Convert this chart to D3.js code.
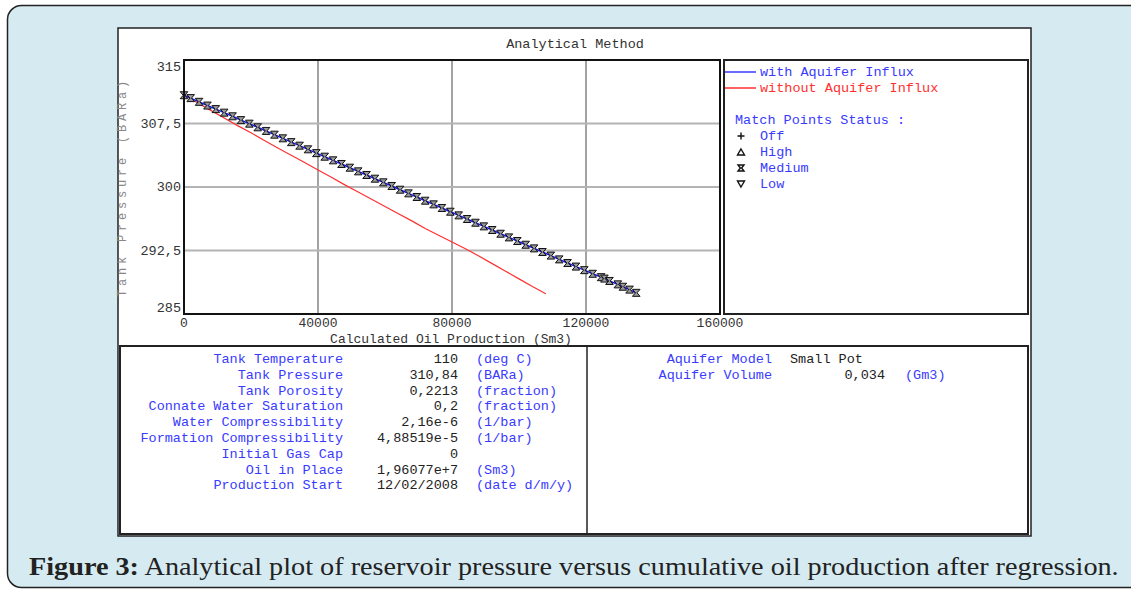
<!DOCTYPE html>
<html>
<head>
<meta charset="utf-8">
<script src="https://cdn.jsdelivr.net/npm/d3@7"></script>
<style>
  body { margin: 0; background: #fff; }
  svg { display: block; }
  .mono { font-family: "Liberation Mono", "DejaVu Sans Mono", monospace; font-size: 13.5px; }
</style>
</head>
<body>
<div class="canvas"></div>
<script>
// match points (with aquifer influx), cumulative oil in Sm3 / pressure in BARa
const matchProd = [0, 2000, 4500, 7000, 9500, 12000, 14500, 17000, 19500, 22000, 24500, 27000, 29500,
    32000, 34500, 37000, 39500, 42000, 44500, 47000, 49500, 52000, 54500, 57000, 59500, 62000, 64500,
    67000, 69500, 72000, 74500, 77000, 79500, 82000, 84500, 87000, 89500, 92000, 94500, 97000, 99500,
    102000, 104500, 107000, 109500, 112000, 114500, 117000, 119500, 122000, 124500, 125500, 127000,
    129500, 131000, 133000, 135000]
const matchPres = [310.84, 310.50, 310.06, 309.62, 309.20, 308.78, 308.35, 307.90, 307.48, 307.05, 306.62,
    306.18, 305.75, 305.30, 304.88, 304.45, 304.00, 303.58, 303.15, 302.72, 302.28, 301.85, 301.42,
    300.98, 300.55, 300.12, 299.68, 299.25, 298.82, 298.38, 297.95, 297.52, 297.08, 296.65, 296.22,
    295.78, 295.35, 294.92, 294.48, 294.05, 293.62, 293.18, 292.75, 292.32, 291.90, 291.45, 291.02,
    290.60, 290.18, 289.75, 289.35, 289.18, 288.90, 288.50, 288.22, 287.88, 287.50]

// without aquifer influx
const noAqProd = [0, 4000, 8000, 12000, 16000, 20000, 24000, 28000, 32000, 36000, 40000, 44000, 48000,
    52000, 56000, 60000, 64000, 68000, 72000, 76000, 80000, 84000, 88000, 92000, 96000, 100000, 104000, 108000]
const noAqPres = [310.84, 309.95, 309.05, 308.15, 307.25, 306.40, 305.50, 304.60, 303.75, 302.90, 302.00,
    301.15, 300.25, 299.40, 298.55, 297.70, 296.85, 296.00, 295.10, 294.30, 293.50, 292.70, 291.85,
    290.95, 290.05, 289.15, 288.25, 287.40]

const xTicks = [0, 40000, 80000, 120000, 160000]
const yTicks = [285, 292.5, 300, 307.5, 315]

const legendLines = ['with Aquifer Influx', 'without Aquifer Influx']
const statusNames = ['Off', 'High', 'Medium', 'Low']

const tankLabels = ['Tank Temperature', 'Tank Pressure', 'Tank Porosity', 'Connate Water Saturation',
    'Water Compressibility', 'Formation Compressibility', 'Initial Gas Cap', 'Oil in Place', 'Production Start']
const tankValues = ['110', '310,84', '0,2213', '0,2', '2,16e-6', '4,88519e-5', '0', '1,96077e+7', '12/02/2008']
const tankUnits = ['(deg C)', '(BARa)', '(fraction)', '(fraction)', '(1/bar)', '(1/bar)', '', '(Sm3)', '(date d/m/y)']

const aqLabels = ['Aquifer Model', 'Aquifer Volume']
const aqValues = ['Small Pot', '0,034']
const aqUnits = ['', '(Gm3)']

const blue = '#3a3aff'
const red = '#ff3030'

const svg = d3.select('.canvas')
    .append('svg')
    .attr('width', 1131)
    .attr('height', 591)

// outer figure frame
svg.append('rect')
    .attr('x', 7.5).attr('y', 5.5)
    .attr('width', 1140).attr('height', 582)
    .attr('rx', 14)
    .attr('fill', '#d6ebf1')
    .attr('stroke', '#222')
    .attr('stroke-width', 1.5)

// white panel
svg.append('rect')
    .attr('x', 118).attr('y', 28)
    .attr('width', 913).attr('height', 508)
    .attr('fill', '#fff')
    .attr('stroke', '#222')
    .attr('stroke-width', 1.5)

const x = d3.scaleLinear().domain([0, 160000]).range([184, 720])
const y = d3.scaleLinear().domain([285, 315]).range([314, 60])

// grid
svg.append('g').selectAll('line')
    .data(xTicks.slice(1, -1))
    .join('line')
    .attr('x1', d => x(d)).attr('x2', d => x(d))
    .attr('y1', y(315)).attr('y2', y(285))
    .attr('stroke', '#666').attr('stroke-width', 1.2)

svg.append('g').selectAll('line')
    .data(yTicks.slice(1, -1))
    .join('line')
    .attr('x1', x(0)).attr('x2', x(160000))
    .attr('y1', d => y(d)).attr('y2', d => y(d))
    .attr('stroke', '#b4b4b4').attr('stroke-width', 2)

// axes labels
const fmt = d => String(d).replace('.', ',')
svg.append('g').selectAll('text')
    .data(yTicks)
    .join('text')
    .attr('class', 'mono')
    .attr('x', 181)
    .attr('y', d => d === 315 ? y(d) + 11 : d === 285 ? y(d) - 2 : y(d) + 4)
    .attr('text-anchor', 'end')
    .attr('fill', '#333')
    .text(fmt)

svg.append('g').selectAll('text')
    .data(xTicks)
    .join('text')
    .attr('class', 'mono')
    .attr('x', d => x(d))
    .attr('y', 327)
    .attr('text-anchor', 'middle')
    .attr('fill', '#333')
    .style('font-size', '13px')
    .text(d => d)

svg.append('text')
    .attr('class', 'mono')
    .attr('x', 451).attr('y', 343)
    .attr('text-anchor', 'middle')
    .attr('fill', '#333')
    .style('font-size', '13px')
    .text('Calculated Oil Production (Sm3)')

svg.append('text')
    .attr('class', 'mono')
    .attr('transform', 'translate(126,187) rotate(-90)')
    .attr('text-anchor', 'middle')
    .attr('fill', '#888')
    .style('font-size', '12px')
    .style('letter-spacing', '3.8px')
    .text('Tank Pressure (BARa)')

svg.append('text')
    .attr('class', 'mono')
    .attr('x', 575).attr('y', 48)
    .attr('text-anchor', 'middle')
    .attr('fill', '#333')
    .text('Analytical Method')

// curves
const line = d3.line().x(d => x(d[0])).y(d => y(d[1]))

svg.append('path')
    .datum(d3.zip(noAqProd, noAqPres))
    .attr('d', line)
    .attr('fill', 'none')
    .attr('stroke', red)
    .attr('stroke-width', 1.2)

svg.append('path')
    .datum(d3.zip(matchProd, matchPres))
    .attr('d', line)
    .attr('fill', 'none')
    .attr('stroke', '#1515e0')
    .attr('stroke-width', 1.5)

// medium status marker (hourglass)
const hourglass = 'M-3.8,-3.5H3.8L0.8,0L3.8,3.5H-3.8L-0.8,0Z'
svg.append('g').selectAll('path')
    .data(d3.zip(matchProd, matchPres))
    .join('path')
    .attr('transform', d => `translate(${x(d[0])},${y(d[1])})`)
    .attr('d', hourglass)
    .attr('fill', '#9a9a9a')
    .attr('stroke', '#111')
    .attr('stroke-width', 1)

// plot border
svg.append('rect')
    .attr('x', x(0)).attr('y', y(315))
    .attr('width', x(160000) - x(0)).attr('height', y(285) - y(315))
    .attr('fill', 'none')
    .attr('stroke', '#111')
    .attr('stroke-width', 2)

// legend box
svg.append('rect')
    .attr('x', 724).attr('y', 60)
    .attr('width', 304).attr('height', 254)
    .attr('fill', '#fff')
    .attr('stroke', '#222')
    .attr('stroke-width', 2)

const legCol = [blue, red]
const lg = svg.append('g')
legendLines.forEach((t, i) => {
    lg.append('line')
        .attr('x1', 725).attr('x2', 756)
        .attr('y1', 72 + i * 16).attr('y2', 72 + i * 16)
        .attr('stroke', legCol[i]).attr('stroke-width', 1.5)
    lg.append('text')
        .attr('class', 'mono')
        .attr('x', 760).attr('y', 76 + i * 16)
        .attr('fill', legCol[i])
        .text(t)
})
lg.append('text')
    .attr('class', 'mono')
    .attr('x', 735).attr('y', 124)
    .attr('fill', blue)
    .text('Match Points Status :')

const statusShapes = [
    'M-3.5,0H3.5M0,-3.5V3.5',
    'M0,-3L3.5,3H-3.5Z',
    'M-3,-3H3L0.6,0L3,3H-3L-0.6,0Z',
    'M0,3L3.5,-3H-3.5Z'
]
statusNames.forEach((t, i) => {
    lg.append('path')
        .attr('transform', `translate(741,${136 + i * 16})`)
        .attr('d', statusShapes[i])
        .attr('fill', i === 0 ? 'none' : '#fff')
        .attr('stroke', '#111')
        .attr('stroke-width', 1.4)
    lg.append('text')
        .attr('class', 'mono')
        .attr('x', 760).attr('y', 140 + i * 16)
        .attr('fill', blue)
        .text(t)
})

// data table
svg.append('rect')
    .attr('x', 120).attr('y', 346)
    .attr('width', 908).attr('height', 188)
    .attr('fill', '#fff')
    .attr('stroke', '#222')
    .attr('stroke-width', 2)
svg.append('line')
    .attr('x1', 587).attr('x2', 587)
    .attr('y1', 346).attr('y2', 534)
    .attr('stroke', '#222').attr('stroke-width', 1.5)

const rowY = i => 363 + i * 15.8
const tg = svg.append('g').attr('class', 'mono')
tankLabels.forEach((t, i) => {
    tg.append('text').attr('x', 343).attr('y', rowY(i))
        .attr('text-anchor', 'end').attr('fill', blue).text(t)
    tg.append('text').attr('x', 458).attr('y', rowY(i))
        .attr('text-anchor', 'end').attr('fill', '#222').text(tankValues[i])
    tg.append('text').attr('x', 476).attr('y', rowY(i))
        .attr('fill', blue).text(tankUnits[i])
})
aqLabels.forEach((t, i) => {
    tg.append('text').attr('x', 772).attr('y', rowY(i))
        .attr('text-anchor', 'end').attr('fill', blue).text(t)
    if (i === 0) {
        tg.append('text').attr('x', 790).attr('y', rowY(i))
            .attr('fill', '#222').text(aqValues[i])
    } else {
        tg.append('text').attr('x', 885).attr('y', rowY(i))
            .attr('text-anchor', 'end').attr('fill', '#222').text(aqValues[i])
        tg.append('text').attr('x', 905).attr('y', rowY(i))
            .attr('fill', blue).text(aqUnits[i])
    }
})

// caption
const cap = svg.append('text')
    .attr('y', 575)
    .attr('fill', '#222')
    .style('font-family', '"Liberation Serif", serif')
    .style('font-size', '25px')
cap.append('tspan').style('font-weight', 'bold').text('Figure 3:')
cap.append('tspan').text(' Analytical plot of reservoir pressure versus cumulative oil production after regression.')
const w = cap.node().getComputedTextLength()
cap.attr('transform', `translate(29,0) scale(${1090 / w},1)`)
</script>
</body>
</html>
